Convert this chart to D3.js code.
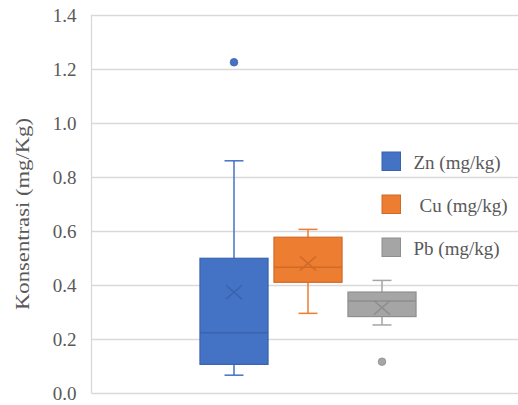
<!DOCTYPE html>
<html>
<head>
<meta charset="utf-8">
<script src="https://cdn.jsdelivr.net/npm/d3@7"></script>
<style>
  body { margin: 0; background: #fff; }
  text { font-family: "Liberation Serif", "Times New Roman", serif; fill: #595959; }
</style>
</head>
<body>
<div class="svg-container"></div>
<script>
// box plot summary values
var series = ["Zn (mg/kg)", "Cu (mg/kg)", "Pb (mg/kg)"];
var lowWhisker = [0.066, 0.295, 0.252];
var q1 = [0.106, 0.410, 0.283];
var median = [0.223, 0.466, 0.341];
var q3 = [0.499, 0.577, 0.374];
var highWhisker = [0.860, 0.606, 0.417];
var means = [0.373, 0.480, 0.316];
var outliers = [[1.225], [], [0.116]];
var yTicks = [0, 0.2, 0.4, 0.6, 0.8, 1.0, 1.2, 1.4];

var fills = ["#4472C4", "#ED7D31", "#A5A5A5"];
var darks = ["#3A63AD", "#D06A27", "#8E8E8E"];

var width = 518, height = 405;
var plotLeft = 91.5, plotRight = 518, plotTop = 15, plotBottom = 393;

var svg = d3.select(".svg-container").append("svg")
    .attr("width", width)
    .attr("height", height);

var y = d3.scaleLinear().domain([0, 1.4]).range([plotBottom, plotTop]);

var x = d3.scaleBand()
    .domain(series)
    .range([197, 419])
    .paddingInner(0.08)
    .paddingOuter(0.04);

// gridlines
svg.append("g")
    .selectAll("line")
    .data(yTicks)
    .enter().append("line")
    .attr("x1", plotLeft)
    .attr("x2", plotRight)
    .attr("y1", function(d) { return Math.round(y(d)) + 0.5; })
    .attr("y2", function(d) { return Math.round(y(d)) + 0.5; })
    .style("stroke", "#d9d9d9")
    .style("stroke-width", 1.3);

// left axis line
svg.append("line")
    .attr("x1", plotLeft).attr("x2", plotLeft)
    .attr("y1", y(1.4)).attr("y2", y(0) + 0.5)
    .style("stroke", "#d9d9d9")
    .style("stroke-width", 1.3);

// tick labels
var yAxis = d3.axisLeft(y).tickValues(yTicks).tickFormat(d3.format(".1f")).tickSize(0).tickPadding(15);
var ax = svg.append("g")
    .attr("transform", "translate(" + plotLeft + ",0.5)")
    .call(yAxis);
ax.select(".domain").remove();
ax.selectAll("text")
    .style("font-size", "19px")
    .style("font-family", "'Liberation Serif', serif")
    .attr("fill", "#595959");

// y label
svg.append("text")
    .attr("transform", "translate(29,214) rotate(-90)")
    .attr("text-anchor", "middle")
    .attr("textLength", 192)
    .attr("lengthAdjust", "spacingAndGlyphs")
    .style("font-size", "18px")
    .text("Konsentrasi (mg/Kg)");

// boxes
series.forEach(function(s, i) {
    var cx = x(s) + x.bandwidth() / 2;
    var g = svg.append("g");
    var cap = 9.5;

    // whiskers
    g.append("line")
        .attr("x1", cx).attr("x2", cx)
        .attr("y1", y(highWhisker[i])).attr("y2", y(q3[i]))
        .style("stroke", fills[i]).style("stroke-width", 1.5);
    g.append("line")
        .attr("x1", cx).attr("x2", cx)
        .attr("y1", y(q1[i])).attr("y2", y(lowWhisker[i]))
        .style("stroke", fills[i]).style("stroke-width", 1.5);
    g.append("line")
        .attr("x1", cx - cap).attr("x2", cx + cap)
        .attr("y1", y(highWhisker[i])).attr("y2", y(highWhisker[i]))
        .style("stroke", fills[i]).style("stroke-width", 1.5);
    g.append("line")
        .attr("x1", cx - cap).attr("x2", cx + cap)
        .attr("y1", y(lowWhisker[i])).attr("y2", y(lowWhisker[i]))
        .style("stroke", fills[i]).style("stroke-width", 1.5);

    // box
    g.append("rect")
        .attr("x", x(s))
        .attr("y", y(q3[i]))
        .attr("width", x.bandwidth())
        .attr("height", y(q1[i]) - y(q3[i]))
        .style("fill", fills[i])
        .style("stroke", darks[i])
        .style("stroke-width", 1.2);

    // median
    g.append("line")
        .attr("x1", x(s)).attr("x2", x(s) + x.bandwidth())
        .attr("y1", y(median[i])).attr("y2", y(median[i]))
        .style("stroke", darks[i]).style("stroke-width", 1.5);

    // mean marker
    var my = y(means[i]);
    g.append("path")
        .attr("d", "M" + (cx - 8) + "," + (my - 7) + "L" + (cx + 8) + "," + (my + 7) +
                   "M" + (cx - 8) + "," + (my + 7) + "L" + (cx + 8) + "," + (my - 7))
        .style("stroke", darks[i]).style("stroke-width", 1.5)
        .style("fill", "none");

    // outliers
    g.selectAll("circle")
        .data(outliers[i])
        .enter().append("circle")
        .attr("cx", cx)
        .attr("cy", function(d) { return y(d); })
        .attr("r", 3.8)
        .style("fill", fills[i])
        .style("stroke", darks[i])
        .style("stroke-width", 0.8);
});

// legend
var legend = svg.append("g").attr("transform", "translate(382,152)");
var item = legend.selectAll("g")
    .data(series)
    .enter().append("g")
    .attr("transform", function(d, i) { return "translate(0," + (i * 43) + ")"; });
item.append("rect")
    .attr("width", 18.5)
    .attr("height", 18.5)
    .style("fill", function(d, i) { return fills[i]; })
    .style("stroke", function(d, i) { return darks[i]; })
    .style("stroke-width", 1);
item.append("text")
    .attr("x", function(d, i) { return i == 1 ? 37.5 : 31.5; })
    .attr("y", 17)
    .style("font-size", "19px")
    .text(function(d) { return d; });
</script>
</body>
</html>
